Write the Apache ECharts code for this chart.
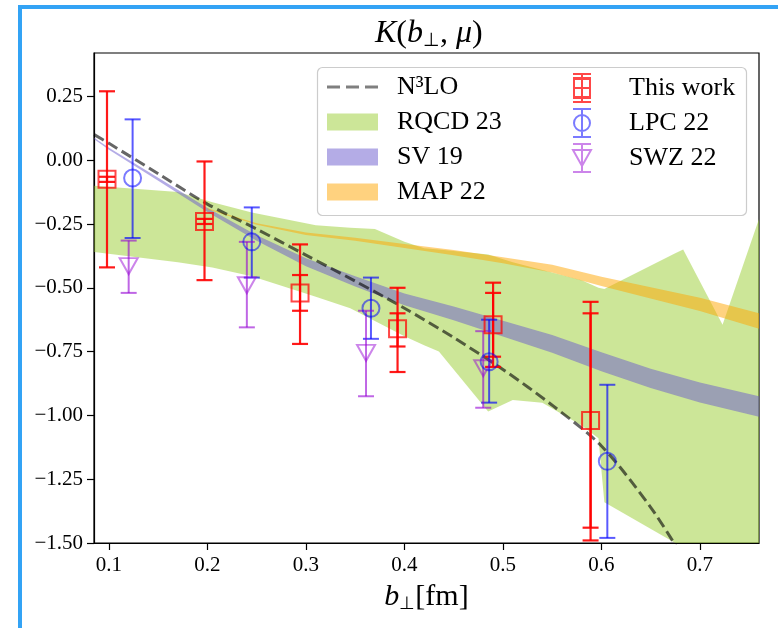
<!DOCTYPE html>
<html>
<head>
<meta charset="utf-8">
<script src="https://cdn.jsdelivr.net/npm/echarts/dist/echarts.min.js"></script>
<style>
  html, body { margin: 0; padding: 0; background: #fff; }
  #chart { width: 778px; height: 628px; }
</style>
</head>
<body>
<div id="chart"></div>
<script>
// ---------- data ----------
const xTicks = [0.1, 0.2, 0.3, 0.4, 0.5, 0.6, 0.7];
const yTicks = [-1.5, -1.25, -1.0, -0.75, -0.5, -0.25, 0.0, 0.25];

// N3LO perturbative curve
const n3X = [0.085, 0.1, 0.15, 0.2, 0.25, 0.3, 0.35, 0.4, 0.45, 0.5, 0.55, 0.6, 0.65, 0.68];
const n3Y = [0.10, 0.066, -0.053, -0.172, -0.27, -0.372, -0.474, -0.58, -0.695, -0.82, -0.96, -1.12, -1.36, -1.54];

// RQCD 23 band
const rqX  = [0.085, 0.17, 0.205, 0.245, 0.31, 0.345, 0.37, 0.40, 0.42, 0.435, 0.485, 0.51, 0.54, 0.58, 0.597, 0.603, 0.675, 0.683, 0.723, 0.76];
const rqHi = [-0.10, -0.125, -0.165, -0.205, -0.255, -0.265, -0.27, -0.32, -0.345, -0.35, -0.37, -0.40, -0.43, -0.47, -0.50, -0.505, -0.365, -0.35, -0.645, -0.23];
const rqLo = [-0.36, -0.40, -0.42, -0.455, -0.535, -0.58, -0.63, -0.69, -0.725, -0.75, -0.985, -0.94, -0.95, -1.04, -1.09, -1.34, -1.50, -1.55, -1.60, -1.60];

// SV 19 band
const svX  = [0.085, 0.1, 0.15, 0.2, 0.25, 0.3, 0.35, 0.4, 0.45, 0.5, 0.55, 0.6, 0.65, 0.7, 0.76];
const svHi = [0.088, 0.049, -0.069, -0.187, -0.294, -0.384, -0.455, -0.522, -0.573, -0.629, -0.685, -0.753, -0.817, -0.871, -0.925];
const svLo = [0.082, 0.041, -0.081, -0.203, -0.316, -0.416, -0.495, -0.568, -0.627, -0.691, -0.755, -0.827, -0.893, -0.949, -1.005];

// MAP 22 band
const mapX  = [0.2, 0.25, 0.3, 0.35, 0.4, 0.45, 0.5, 0.55, 0.6, 0.65, 0.7, 0.76];
const mapHi = [-0.188, -0.247, -0.283, -0.304, -0.328, -0.352, -0.380, -0.410, -0.457, -0.498, -0.539, -0.600];
const mapLo = [-0.192, -0.253, -0.293, -0.316, -0.344, -0.372, -0.404, -0.440, -0.493, -0.542, -0.591, -0.660];

// This work
const redX       = [0.098, 0.197, 0.294, 0.393, 0.490, 0.589];
const redY       = [-0.075, -0.24, -0.52, -0.66, -0.645, -1.02];
const redOuterLo = [-0.42, -0.47, -0.72, -0.83, -0.81, -1.49];
const redOuterHi = [0.27, -0.005, -0.33, -0.50, -0.48, -0.555];
const redInnerLo = [-0.085, -0.25, -0.59, -0.73, -0.77, -1.44];
const redInnerHi = [-0.065, -0.23, -0.45, -0.60, -0.52, -0.60];

// LPC 22
const blueX  = [0.124, 0.245, 0.366, 0.486, 0.606];
const blueY  = [-0.07, -0.32, -0.58, -0.79, -1.18];
const blueLo = [-0.305, -0.46, -0.70, -0.95, -1.48];
const blueHi = [0.16, -0.185, -0.46, -0.625, -0.88];

// SWZ 22
const purX  = [0.12, 0.24, 0.361, 0.48];
const purY  = [-0.415, -0.49, -0.755, -0.815];
const purLo = [-0.52, -0.655, -0.925, -0.97];
const purHi = [-0.315, -0.32, -0.59, -0.67];

// ---------- styles ----------
const FONT = 'Liberation Serif';
const C_RQ = 'rgba(154,205,50,0.5)';
const C_SV = 'rgba(106,90,205,0.5)';
const C_MAP = 'rgba(255,165,0,0.5)';
const C_N3 = 'rgba(0,0,0,0.6)';
const C_RED = 'rgba(255,0,0,0.9)';
const C_BLUE = 'rgba(0,0,255,0.65)';
const C_PUR = 'rgba(148,0,211,0.6)';

function clipOf(params) {
  const cs = params.coordSys;
  return { type: 'rect', shape: { x: cs.x, y: cs.y, width: cs.width, height: cs.height } };
}

function bandSeries(name, xs, lo, hi, color) {
  return {
    name: name, type: 'custom', clip: true, silent: true, z: 1,
    itemStyle: { color: color },
    encode: { x: 0, y: [1, 2] },
    data: xs.map((x, i) => [x, lo[i], hi[i]]),
    renderItem: function (params, api) {
      if (params.dataIndex !== 0) return null;
      const pts = [];
      for (let i = 0; i < xs.length; i++) pts.push(api.coord([xs[i], hi[i]]));
      for (let i = xs.length - 1; i >= 0; i--) pts.push(api.coord([xs[i], lo[i]]));
      return {
        type: 'polygon', shape: { points: pts }, style: { fill: color },
        clipPath: clipOf(params)
      };
    }
  };
}

function errSeries(name, xs, lo, hi, color, capW, lw) {
  return {
    name: name, type: 'custom', clip: true, silent: true, z: 5,
    itemStyle: { color: color },
    encode: { x: 0, y: [1, 2] },
    data: xs.map((x, i) => [x, lo[i], hi[i]]),
    renderItem: function (params, api) {
      const x = api.value(0);
      const p1 = api.coord([x, api.value(2)]);
      const p2 = api.coord([x, api.value(1)]);
      const st = { stroke: color, lineWidth: lw };
      return {
        type: 'group',
        children: [
          { type: 'line', shape: { x1: p1[0], y1: p1[1], x2: p2[0], y2: p2[1] }, style: st },
          { type: 'line', shape: { x1: p1[0] - capW / 2, y1: p1[1], x2: p1[0] + capW / 2, y2: p1[1] }, style: st },
          { type: 'line', shape: { x1: p2[0] - capW / 2, y1: p2[1], x2: p2[0] + capW / 2, y2: p2[1] }, style: st }
        ]
      };
    }
  };
}

function markSeries(name, xs, ys, symbol, size, color, rotate) {
  return {
    name: name, type: 'scatter', silent: true, z: 6,
    symbol: symbol, symbolSize: size, symbolRotate: rotate || 0,
    itemStyle: { color: 'rgba(0,0,0,0)', borderColor: color, borderWidth: 2 },
    data: xs.map((x, i) => [x, ys[i]])
  };
}

const ICON_DASH = 'path://M0 0H13V3H0ZM19 0H32V3H19ZM38 0H51V3H38Z';
const ICON_WORK = 'path://M0 0H18M0 4H18M0 24H18M0 28H18M9 0V28M1 5H17V23H1ZM1 14H17';
const ICON_LPC = 'path://M0 0H18M0 28H18M9 0V28M1 14A8 8 0 1 0 17 14A8 8 0 1 0 1 14Z';
const ICON_SWZ = 'path://M0 0H18M0 28H18M9 0V28M0 6H18L9 22Z';

const yFmt = v => (v < 0 ? '\u2212' : '') + Math.abs(v).toFixed(2);

const chart = echarts.init(document.getElementById('chart'), null, { renderer: 'canvas' });
chart.setOption({
  animation: false,
  backgroundColor: '#fff',
  title: {
    text: '{i|K}({i|b}{s|\u22a5}, {i|\u03bc})',
    left: 370, top: 12,
    textStyle: {
      fontFamily: FONT, fontSize: 32, color: '#000', fontWeight: 'normal',
      rich: {
        i: { fontFamily: FONT, fontSize: 32, fontStyle: 'italic', color: '#000', lineHeight: 34 },
        s: { fontFamily: FONT, fontSize: 19, color: '#000', verticalAlign: 'bottom', lineHeight: 32 }
      }
    }
  },
  grid: {
    left: 94, right: 19, top: 53, bottom: 85, containLabel: false,
    show: true, borderColor: '#000', borderWidth: 1.2, backgroundColor: 'rgba(0,0,0,0)'
  },
  xAxis: {
    type: 'value', min: 0.0848, max: 0.76,
    name: '{i|b}{s|\u22a5}[fm]', nameLocation: 'middle', nameGap: 38,
    nameTextStyle: {
      fontFamily: FONT, fontSize: 30, color: '#000',
      rich: {
        i: { fontFamily: FONT, fontSize: 30, fontStyle: 'italic', color: '#000', lineHeight: 32 },
        s: { fontFamily: FONT, fontSize: 18, color: '#000', verticalAlign: 'bottom', lineHeight: 30 }
      }
    },
    axisLine: { show: true, onZero: false, lineStyle: { color: '#000', width: 1.2 } },
    axisTick: { show: true, inside: false, length: 7, customValues: xTicks, lineStyle: { color: '#000', width: 1.2 } },
    axisLabel: { customValues: xTicks, margin: 12, fontFamily: FONT, fontSize: 21, color: '#000',
                 formatter: v => v.toFixed(1) },
    splitLine: { show: false }
  },
  yAxis: {
    type: 'value', min: -1.5, max: 0.42,
    axisLine: { show: true, onZero: false, lineStyle: { color: '#000', width: 1.2 } },
    axisTick: { show: true, inside: false, length: 7, customValues: yTicks, lineStyle: { color: '#000', width: 1.2 } },
    axisLabel: { customValues: yTicks, margin: 11, fontFamily: FONT, fontSize: 21, color: '#000', formatter: yFmt },
    splitLine: { show: false }
  },
  legend: [
    {
      orient: 'vertical', left: 327, top: 74, padding: 0, itemGap: 9,
      itemWidth: 51, itemHeight: 17, selectedMode: false, z: 20,
      textStyle: { fontFamily: FONT, fontSize: 26, color: '#000', lineHeight: 26, padding: [0, 0, 0, 14] },
      data: [
        { name: 'N\u00b3LO', icon: ICON_DASH, itemStyle: { color: 'rgba(0,0,0,0.5)', borderWidth: 0 } },
        { name: 'RQCD 23', icon: 'rect', itemStyle: { color: C_RQ } },
        { name: 'SV 19', icon: 'rect', itemStyle: { color: C_SV } },
        { name: 'MAP 22', icon: 'rect', itemStyle: { color: C_MAP } }
      ]
    },
    {
      orient: 'vertical', left: 572, top: 73, padding: 0, itemGap: 5,
      itemWidth: 18, itemHeight: 28, selectedMode: false, z: 20,
      textStyle: { fontFamily: FONT, fontSize: 26, color: '#000', lineHeight: 26, padding: [0, 0, 0, 33] },
      data: [
        { name: 'This work', icon: ICON_WORK, itemStyle: { color: 'rgba(0,0,0,0)', borderColor: C_RED, borderWidth: 2 } },
        { name: 'LPC 22', icon: ICON_LPC, itemStyle: { color: 'rgba(0,0,0,0)', borderColor: C_BLUE, borderWidth: 2 } },
        { name: 'SWZ 22', icon: ICON_SWZ, itemStyle: { color: 'rgba(0,0,0,0)', borderColor: C_PUR, borderWidth: 2 } }
      ]
    }
  ],
  graphic: [
    { type: 'rect', z: 100, shape: { x: 18, y: 5, width: 4, height: 623 }, style: { fill: '#33a3f5' } },
    { type: 'rect', z: 100, shape: { x: 18, y: 5, width: 760, height: 4 }, style: { fill: '#33a3f5' } },
    { type: 'rect', z: 10, shape: { x: 317.5, y: 67.5, width: 429, height: 148, r: 5 },
      style: { fill: 'rgba(255,255,255,0.8)', stroke: '#cccccc', lineWidth: 1.2 } }
  ],
  series: [
    bandSeries('RQCD 23', rqX, rqLo, rqHi, C_RQ),
    bandSeries('SV 19', svX, svLo, svHi, C_SV),
    bandSeries('MAP 22', mapX, mapLo, mapHi, C_MAP),
    {
      name: 'N\u00b3LO', type: 'line', z: 3, silent: true, symbol: 'none', smooth: 0.3, clip: true,
      lineStyle: { color: C_N3, width: 3, type: [11, 5] },
      itemStyle: { color: C_N3 },
      data: n3X.map((x, i) => [x, n3Y[i]])
    },
    markSeries('This work', redX, redY, 'rect', 17, C_RED),
    errSeries('This work', redX, redOuterLo, redOuterHi, C_RED, 16, 2.2),
    errSeries('This work', redX, redInnerLo, redInnerHi, C_RED, 16, 2.2),
    markSeries('LPC 22', blueX, blueY, 'circle', 17, C_BLUE),
    errSeries('LPC 22', blueX, blueLo, blueHi, C_BLUE, 16, 2),
    markSeries('SWZ 22', purX, purY, 'triangle', [18, 16], C_PUR, 180),
    errSeries('SWZ 22', purX, purLo, purHi, C_PUR, 16, 2)
  ]
});
</script>
</body>
</html>
